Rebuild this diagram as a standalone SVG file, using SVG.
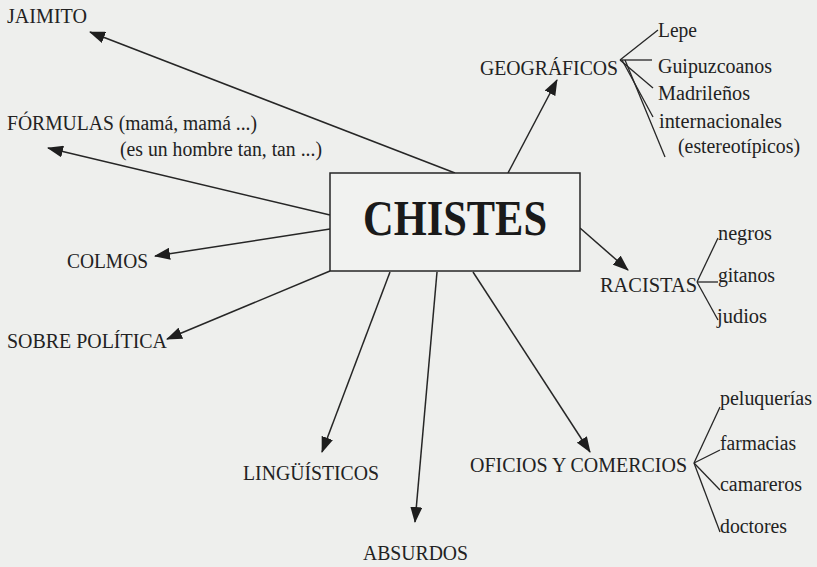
<svg xmlns="http://www.w3.org/2000/svg" width="817" height="567" viewBox="0 0 817 567">
<defs>
<marker id="ah" markerUnits="userSpaceOnUse" markerWidth="16" markerHeight="12" refX="15" refY="6" orient="auto">
<path d="M0,0 L16,6 L0,12 z" fill="#1e1e1e"/>
</marker>
<style>
.t{font-family:'Liberation Serif','Times New Roman',Times,serif;font-size:20px;fill:#222;}
.a{stroke:#262626;stroke-width:1.5;fill:none;marker-end:url(#ah);}
.b{stroke:#262626;stroke-width:1.3;fill:none;}
</style>
</defs>
<rect x="0" y="0" width="817" height="567" fill="#eeefed"/>
<g id="connectors">
<line class="a" x1="455" y1="173" x2="90" y2="32"/>
<line class="a" x1="330" y1="215" x2="48" y2="148"/>
<line class="a" x1="330" y1="229" x2="155" y2="256"/>
<line class="a" x1="330" y1="271" x2="167" y2="339"/>
<line class="a" x1="508" y1="173" x2="557" y2="80"/>
<line class="a" x1="580" y1="228" x2="628" y2="270"/>
<line class="a" x1="390" y1="272" x2="322" y2="452"/>
<line class="a" x1="437" y1="272" x2="415" y2="522"/>
<line class="a" x1="473" y1="272" x2="590" y2="452"/>
<line class="b" x1="620" y1="60" x2="658" y2="30"/>
<line class="b" x1="620" y1="60" x2="652" y2="60"/>
<line class="b" x1="620" y1="60" x2="653" y2="88"/>
<line class="b" x1="622" y1="60" x2="653" y2="117"/>
<line class="b" x1="625" y1="60" x2="665" y2="157"/>
<line class="b" x1="697" y1="282" x2="718" y2="238"/>
<line class="b" x1="697" y1="282" x2="718" y2="282"/>
<line class="b" x1="697" y1="282" x2="718" y2="320"/>
<line class="b" x1="694" y1="463" x2="720" y2="407"/>
<line class="b" x1="694" y1="463" x2="720" y2="450"/>
<line class="b" x1="694" y1="463" x2="720" y2="490"/>
<line class="b" x1="694" y1="463" x2="720" y2="532"/>
</g>
<g id="chistes">
<rect x="330" y="173" width="250" height="98" fill="#f1f2f0" stroke="#262626" stroke-width="1.5"/>
<text x="363" y="235" font-family="Liberation Serif, Times New Roman, serif" font-size="50" font-weight="bold" fill="#1a1a1a" textLength="184" lengthAdjust="spacingAndGlyphs">CHISTES</text>
</g>
<g font-family="Liberation Serif, Times New Roman, serif" font-size="20" fill="#222">
<g id="jaimito"><text class="t" x="7" y="23" textLength="80" lengthAdjust="spacingAndGlyphs">JAIMITO</text></g>
<g id="formulas">
<text class="t" x="7" y="130" textLength="250" lengthAdjust="spacingAndGlyphs">FÓRMULAS (mamá, mamá ...)</text>
<text class="t" x="120" y="156" textLength="202" lengthAdjust="spacingAndGlyphs">(es un hombre tan, tan ...)</text>
</g>
<g id="colmos"><text class="t" x="67" y="268" textLength="81" lengthAdjust="spacingAndGlyphs">COLMOS</text></g>
<g id="politica"><text class="t" x="7" y="348" textLength="160" lengthAdjust="spacingAndGlyphs">SOBRE POLÍTICA</text></g>
<g id="geograficos">
<text class="t" x="480" y="75" textLength="138" lengthAdjust="spacingAndGlyphs">GEOGRÁFICOS</text>
<text class="t" x="658" y="37" textLength="39" lengthAdjust="spacingAndGlyphs">Lepe</text>
<text class="t" x="658" y="73" textLength="114" lengthAdjust="spacingAndGlyphs">Guipuzcoanos</text>
<text class="t" x="658" y="100" textLength="92" lengthAdjust="spacingAndGlyphs">Madrileños</text>
<text class="t" x="659" y="128" textLength="123" lengthAdjust="spacingAndGlyphs">internacionales</text>
<text class="t" x="678" y="153" textLength="122" lengthAdjust="spacingAndGlyphs">(estereotípicos)</text>
</g>
<g id="racistas">
<text class="t" x="600" y="292" textLength="97" lengthAdjust="spacingAndGlyphs">RACISTAS</text>
<text class="t" x="718" y="240" textLength="54" lengthAdjust="spacingAndGlyphs">negros</text>
<text class="t" x="718" y="282" textLength="57" lengthAdjust="spacingAndGlyphs">gitanos</text>
<text class="t" x="717" y="323" textLength="50" lengthAdjust="spacingAndGlyphs">judios</text>
</g>
<g id="linguisticos"><text class="t" x="243" y="480" textLength="136" lengthAdjust="spacingAndGlyphs">LINGÜÍSTICOS</text></g>
<g id="absurdos"><text class="t" x="363" y="560" textLength="105" lengthAdjust="spacingAndGlyphs">ABSURDOS</text></g>
<g id="oficios">
<text class="t" x="470" y="472" textLength="217" lengthAdjust="spacingAndGlyphs">OFICIOS Y COMERCIOS</text>
<text class="t" x="720" y="405" textLength="92" lengthAdjust="spacingAndGlyphs">peluquerías</text>
<text class="t" x="720" y="450" textLength="76" lengthAdjust="spacingAndGlyphs">farmacias</text>
<text class="t" x="720" y="491" textLength="82" lengthAdjust="spacingAndGlyphs">camareros</text>
<text class="t" x="720" y="533" textLength="67" lengthAdjust="spacingAndGlyphs">doctores</text>
</g>
</g>
</svg>
